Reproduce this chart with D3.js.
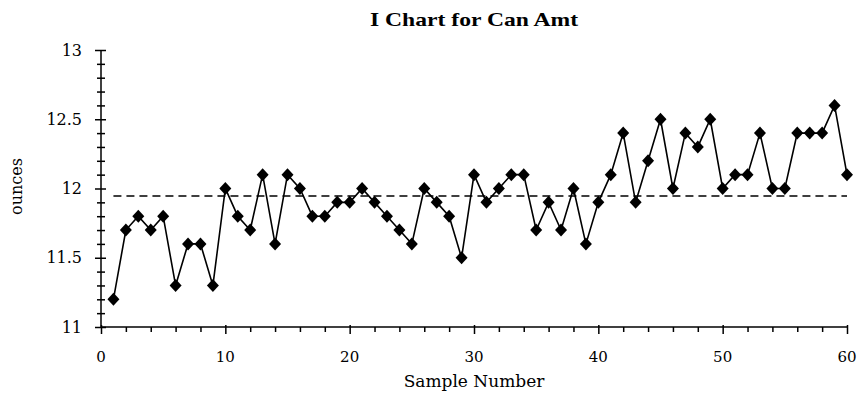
<!DOCTYPE html>
<html>
<head>
<meta charset="utf-8">
<script src="https://cdn.jsdelivr.net/npm/d3@7"></script>
<style>
  html, body { margin: 0; padding: 0; background: #fff; }
  svg { display: block; }
  text { font-family: "DejaVu Serif", "Liberation Serif", serif; fill: #000; }
</style>
</head>
<body>
<svg id="chart" width="859" height="398"></svg>
<script>
// ---- data ----
const samples = d3.range(1, 61);
const ounces = [
  11.2, 11.7, 11.8, 11.7, 11.8, 11.3, 11.6, 11.6, 11.3, 12.0,
  11.8, 11.7, 12.1, 11.6, 12.1, 12.0, 11.8, 11.8, 11.9, 11.9,
  12.0, 11.9, 11.8, 11.7, 11.6, 12.0, 11.9, 11.8, 11.5, 12.1,
  11.9, 12.0, 12.1, 12.1, 11.7, 11.9, 11.7, 12.0, 11.6, 11.9,
  12.1, 12.4, 11.9, 12.2, 12.5, 12.0, 12.4, 12.3, 12.5, 12.0,
  12.1, 12.1, 12.4, 12.0, 12.0, 12.4, 12.4, 12.4, 12.6, 12.1
];
const centerLine = [11.945];
const xTicks = [0, 10, 20, 30, 40, 50, 60];
const yTicks = [11, 11.5, 12, 12.5, 13];
const titleText = "I Chart for Can Amt";
const xLabel = "Sample Number";
const yLabel = "ounces";

// ---- layout ----
const svg = d3.select("#chart");
const pLeft = 101, pRight = 847, pTop = 50, pBottom = 327;

const x = d3.scaleLinear().domain([0, 60]).range([pLeft, pRight]);
const y = d3.scaleLinear().domain([11, 13]).range([pBottom, pTop]);

// title
svg.append("text")
  .attr("x", (pLeft + pRight) / 2).attr("y", 26)
  .attr("text-anchor", "middle")
  .attr("textLength", 208).attr("lengthAdjust", "spacingAndGlyphs")
  .style("font-family", "'Liberation Serif', serif")
  .style("font-weight", "bold").style("font-size", "19px")
  .text(titleText);

// x axis
const gx = svg.append("g").attr("transform", `translate(0,${pBottom})`);
gx.call(d3.axisBottom(x).tickValues(d3.range(0, 61, 2)).tickSize(5).tickFormat(""))
  .call(g => g.select(".domain").attr("stroke-width", 1.5).attr("d", `M${pLeft},0H${pRight}`))
  .call(g => g.selectAll(".tick line").attr("stroke-width", 1.5));
gx.call(g => g.selectAll(".tick").filter(d => xTicks.includes(d)).select("line").attr("y1", -2).attr("y2", 7));
gx.selectAll(".major").data(xTicks).enter().append("text")
  .attr("x", d => x(d)).attr("y", 35)
  .attr("text-anchor", "middle")
  .style("font-size", "15px")
  .text(d => d);

// y axis
const gy = svg.append("g").attr("transform", `translate(${pLeft},0)`);
gy.call(d3.axisLeft(y).tickValues(d3.range(0, 21).map(i => 11 + i * 0.1)).tickSize(4).tickFormat(""))
  .call(g => g.select(".domain").attr("stroke-width", 1.5).attr("d", `M0,${pBottom}V${pTop}`))
  .call(g => g.selectAll(".tick line").attr("x1", 4).attr("x2", -4).attr("stroke-width", 1.5));
gy.call(g => g.selectAll(".tick").filter(d => yTicks.some(t => Math.abs(t - d) < 1e-6)).select("line").attr("x1", 5).attr("x2", -6));
gy.selectAll(".major").data(yTicks).enter().append("text")
  .attr("x", -19).attr("y", d => y(d)).attr("dy", "0.35em")
  .attr("text-anchor", "end")
  .style("font-size", "16px")
  .text(d => d);

// axis labels
svg.append("text")
  .attr("x", (pLeft + pRight) / 2).attr("y", 387)
  .attr("text-anchor", "middle")
  .style("font-size", "17px")
  .text(xLabel);
svg.append("text")
  .attr("transform", `translate(22,${(pTop + pBottom) / 2 - 2}) rotate(-90)`)
  .attr("text-anchor", "middle")
  .style("font-size", "16px")
  .text(yLabel);

// center line
svg.selectAll(".cl").data(centerLine).enter().append("line")
  .attr("x1", x(1)).attr("x2", x(60))
  .attr("y1", d => y(d)).attr("y2", d => y(d))
  .attr("stroke", "#000").attr("stroke-width", 1.5)
  .attr("stroke-dasharray", "8,5");

// series
const pts = samples.map((s, i) => [s, ounces[i]]);
svg.append("path")
  .datum(pts)
  .attr("fill", "none").attr("stroke", "#000").attr("stroke-width", 1.6)
  .attr("d", d3.line().x(d => x(d[0])).y(d => y(d[1])));

svg.selectAll(".pt").data(pts).enter().append("path")
  .attr("transform", d => `translate(${x(d[0])},${y(d[1])})`)
  .attr("d", "M0,-6.5L6,0L0,6.5L-6,0Z")
  .attr("fill", "#000");
</script>
</body>
</html>
